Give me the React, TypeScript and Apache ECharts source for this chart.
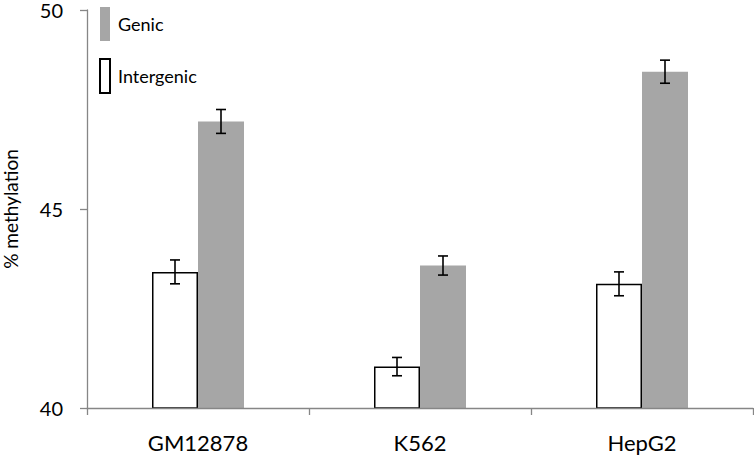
import React, { useEffect, useRef } from "react";
import * as echarts from "echarts";

const categories = ["GM12878", "K562", "HepG2"];
const intergenicValues = [43.42, 41.04, 43.12];
const intergenicErrors = [0.3, 0.23, 0.3];
const genicValues = [47.2, 43.58, 48.45];
const genicErrors = [0.3, 0.24, 0.29];
const yTicks = { min: 40, max: 50, interval: 5 };

const FONT = "Lato";
const BAR_W = 46;

function errorSeries(values: number[], errors: number[], offset: number) {
  return {
    type: "custom",
    z: 10,
    silent: true,
    data: values.map((v, i) => [i, v, errors[i]]),
    renderItem: (params: any, api: any) => {
      const cat = api.value(0);
      const v = api.value(1);
      const e = api.value(2);
      const hi = api.coord([cat, v + e]);
      const lo = api.coord([cat, v - e]);
      const x = hi[0] + offset;
      const cap = 5;
      const style = { stroke: "#000", lineWidth: 1.6 };
      return {
        type: "group",
        children: [
          { type: "line", shape: { x1: x, y1: hi[1], x2: x, y2: lo[1] }, style },
          { type: "line", shape: { x1: x - cap, y1: hi[1], x2: x + cap, y2: hi[1] }, style },
          { type: "line", shape: { x1: x - cap, y1: lo[1], x2: x + cap, y2: lo[1] }, style },
        ],
      };
    },
  };
}

export default function App() {
  const ref = useRef<HTMLDivElement>(null);
  useEffect(() => {
    if (!ref.current) return;
    const chart = echarts.init(ref.current, undefined, { renderer: "svg" });
    chart.setOption({
      animation: false,
      backgroundColor: "#ffffff",
      textStyle: { fontFamily: FONT },
      grid: {
        left: 87,
        right: 1,
        top: 10,
        bottom: 48,
        containLabel: false,
        outerBoundsMode: "none",
      },
      legend: {
        data: ["Genic", "Intergenic"],
        orient: "vertical",
        left: 99,
        top: 7,
        padding: 0,
        itemWidth: 10,
        itemHeight: 34,
        itemGap: 17,
        icon: "rect",
        selectedMode: false,
        textStyle: { fontFamily: FONT, fontSize: 18, color: "#000", padding: [0, 0, 0, 3] },
      },
      xAxis: {
        type: "category",
        data: categories,
        z: 5,
        boundaryGap: true,
        axisLine: { lineStyle: { color: "#868686", width: 1.3 } },
        axisTick: { show: true, interval: 0, length: 7, lineStyle: { color: "#868686", width: 1.3 } },
        axisLabel: { fontFamily: FONT, fontSize: 22, color: "#000", margin: 23 },
        splitLine: { show: false },
      },
      yAxis: {
        type: "value",
        min: yTicks.min,
        max: yTicks.max,
        interval: yTicks.interval,
        name: "% methylation",
        nameLocation: "middle",
        nameRotate: 90,
        nameGap: 67,
        nameTextStyle: { fontFamily: FONT, fontSize: 19, lineHeight: 19, color: "#000" },
        axisLine: { show: true, lineStyle: { color: "#868686", width: 1.3 } },
        axisTick: { show: true, length: 7, lineStyle: { color: "#868686", width: 1.3 } },
        axisLabel: { fontFamily: FONT, fontSize: 20, lineHeight: 16, color: "#000", margin: 24 },
        splitLine: { show: false },
      },
      series: [
        {
          name: "Intergenic",
          type: "bar",
          data: intergenicValues,
          barWidth: BAR_W,
          barGap: "0%",
          itemStyle: { color: "#ffffff", borderColor: "#000000", borderWidth: 1.5 },
        },
        {
          name: "Genic",
          type: "bar",
          data: genicValues,
          barWidth: BAR_W,
          barGap: "0%",
          itemStyle: { color: "#a6a6a6" },
        },
        errorSeries(intergenicValues, intergenicErrors, -BAR_W / 2),
        errorSeries(genicValues, genicErrors, BAR_W / 2),
      ],
    });
    return () => chart.dispose();
  }, []);
  return (
    <div
      ref={ref}
      style={{ position: "fixed", left: 0, top: 0, width: 754, height: 456 }}
    />
  );
}
